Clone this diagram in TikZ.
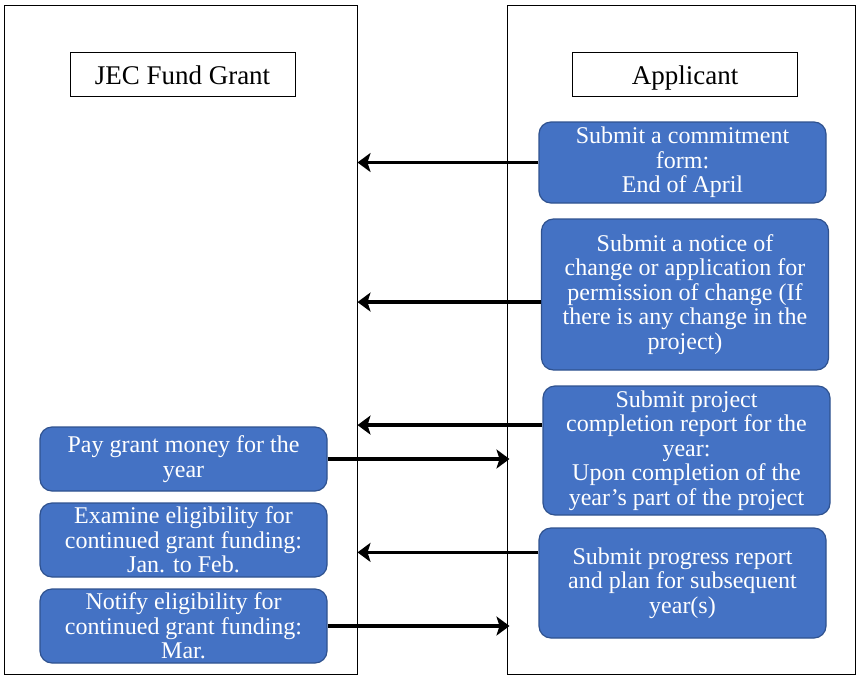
\documentclass[tikz,border=0pt]{standalone}
\usepackage{fontspec}
\setmainfont{Liberation Serif}
\usetikzlibrary{arrows.meta}
\definecolor{bx}{HTML}{4472C4}
\definecolor{bxline}{HTML}{2F528F}

\begin{document}
\begin{tikzpicture}[
      x=1pt, y=-1pt,
      lane/.style={draw, line width=1pt, inner sep=0pt},
      titlebox/.style={draw, line width=1pt, fill=white, minimum width=225pt,
        minimum height=44pt, inner sep=0pt, text height=22pt, text depth=2pt,
        font=\fontsize{27}{30}\selectfont},
      stagebox/.style={draw=bxline, line width=1.2pt, fill=bx, rounded corners=12pt,
        text=white, align=center, inner sep=0pt, minimum width=287pt,
        font=\fontsize{24}{24.5}\selectfont},
      flow/.style={line width=3.6pt, -{Stealth[length=13pt,width=19pt,inset=3pt]}}]
        \useasboundingbox (0,0) rectangle (857,675);

        % lanes
        \node[lane, minimum width=353pt, minimum height=669pt] (grantlane) at (180.5,339.5) {};
        \node[lane, minimum width=348pt, minimum height=669pt] (applane) at (681,339.5) {};

        \node[titlebox] (grant) at (182.5,74) {JEC Fund Grant};
        \node[titlebox] (applicant) at (685,74) {Applicant};

        % applicant side
        \node[stagebox, minimum height=81pt] (commit) at (682.5,162.5)
          {Submit a commitment\\form:\\End of April};
        \node[stagebox, minimum height=151pt] (change) at (685,294.5)
          {Submit a notice of\\change or application for\\permission of change (If\\there is any change in the\\project)};
        \node[stagebox, minimum height=129pt] (report) at (686.5,450.5)
          {Submit project\\completion report for the\\year:\\Upon completion of the\\year’s part of the project};
        \node[stagebox, minimum height=110pt] (progress) at (682.5,583)
          {Submit progress report\\and plan for subsequent\\year(s)};

        % grant side
        \node[stagebox, minimum height=64pt] (pay) at (183.5,459)
          {Pay grant money for the\\year};
        \node[stagebox, minimum height=74pt] (examine) at (183.5,540)
          {Examine eligibility for\\continued grant funding:\\Jan. to Feb.};
        \node[stagebox, minimum height=74pt] (notify) at (183.5,626)
          {Notify eligibility for\\continued grant funding:\\Mar.};

        \draw[flow] (commit.west) -- (commit.west -| grantlane.east);
        \draw[flow] (change.183) -- (change.183 -| grantlane.east);
        \draw[flow] (report.170) -- (report.170 -| grantlane.east);
        \draw[flow] (progress.168) -- (progress.168 -| grantlane.east);

        \draw[flow] (pay.east) -- ([xshift=3pt]pay.east -| applane.west);
        \draw[flow] (notify.east) -- ([xshift=3pt]notify.east -| applane.west);

      \end{tikzpicture}
\end{document}
